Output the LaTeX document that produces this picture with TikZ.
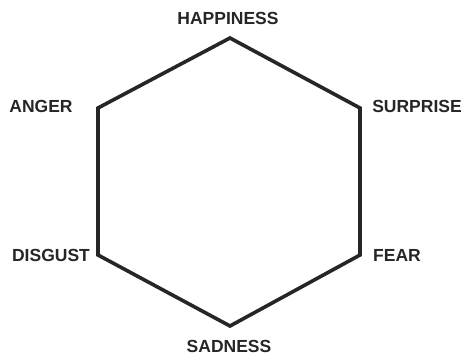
\documentclass[tikz,border=0pt]{standalone}
\usepackage{fontspec}
\setmainfont{Liberation Sans}
\begin{document}
\begin{tikzpicture}[x=1pt,y=-1pt,
  lbl/.style={font=\fontsize{17.5}{19}\selectfont\bfseries, text=black!85, inner sep=0pt},
  edge/.style={line width=3.6pt, draw=black!85, line join=miter}]
\useasboundingbox (0,0) rectangle (466,361);
\coordinate (h) at (230,38);
\coordinate (s) at (360,108);
\coordinate (f) at (360,255);
\coordinate (d) at (230,326);
\coordinate (g) at (98,255);
\coordinate (a) at (98,108);
\draw[edge] (h) -- (s) -- (f) -- (d) -- (g) -- (a) -- cycle;
\node[lbl] (lh) at (228,18) {HAPPINESS};
\node[lbl] (ls) at (417,106) {SURPRISE};
\node[lbl] (lf) at (397,255) {FEAR};
\node[lbl] (ld) at (229,346) {SADNESS};
\node[lbl] (lg) at (51,255) {DISGUST};
\node[lbl] (la) at (41,106) {ANGER};
\end{tikzpicture}
\end{document}
